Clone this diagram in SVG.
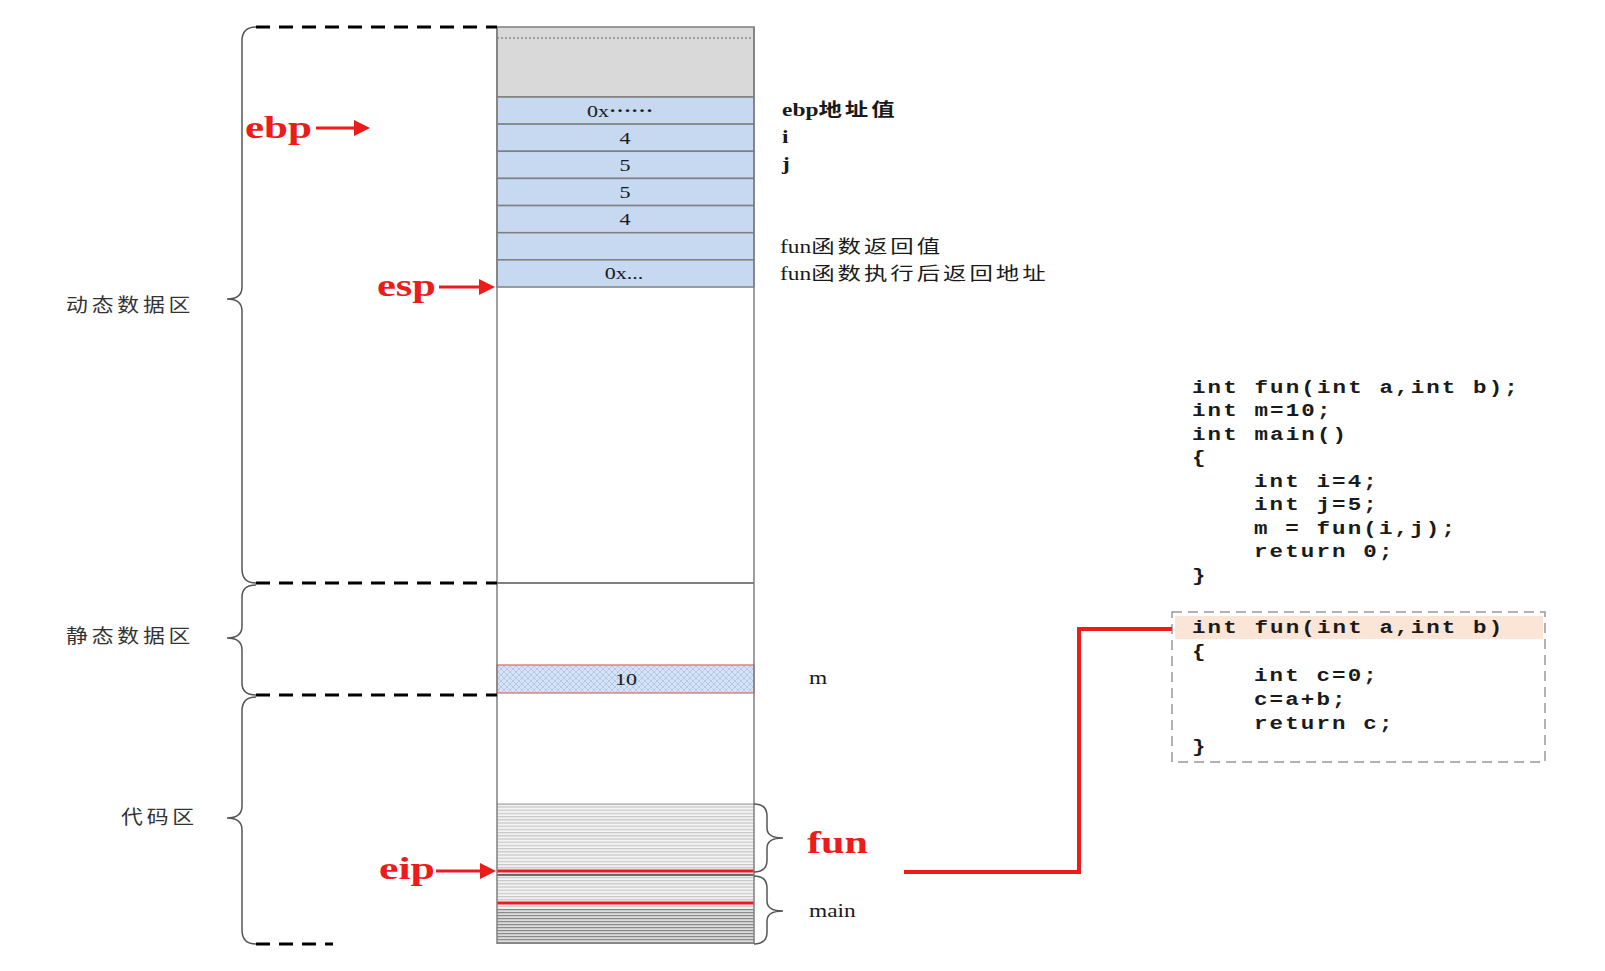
<svg xmlns="http://www.w3.org/2000/svg" width="1605" height="971" viewBox="0 0 1605 971">
<style>
.col{fill:none;stroke:#7f7f7f;stroke-width:1.5}
.cellb{fill:#c6d9f1;stroke:#7f7f7f;stroke-width:1.5}
.dash{fill:none;stroke:#000;stroke-width:3;stroke-dasharray:14 9}
.brace{fill:none;stroke:#555;stroke-width:1.5}
.cell{font-family:"Liberation Serif","Noto Sans CJK SC",serif;font-size:17px;fill:#1a1a1a;text-anchor:middle}
.lbl{font-family:"Liberation Serif","Noto Sans CJK SC",serif;font-size:18px;fill:#1a1a1a}
.cjk{font-family:"Noto Sans CJK SC",sans-serif;letter-spacing:2.3px}
.side{font-family:"Noto Sans CJK SC",sans-serif;font-size:19px;fill:#333;letter-spacing:3.3px}
.red{font-family:"Liberation Serif",serif;font-weight:bold;font-size:31px;fill:#ee1b1b}
.arr{stroke:#ee1b1b;stroke-width:3;fill:none}
.head{fill:#ee1b1b}
.code{font-family:"Liberation Mono","Courier New",monospace;font-weight:bold;font-size:18px;fill:#1a1a1a;letter-spacing:1.7px}
</style>
<defs>
<pattern id="stripeL" width="8" height="3.2" patternUnits="userSpaceOnUse"><rect width="8" height="3.2" fill="#f3f3f3"/><rect width="8" height="1.2" fill="#c6c6c6"/></pattern>
<pattern id="stripeD" width="8" height="3" patternUnits="userSpaceOnUse"><rect width="8" height="3" fill="#dcdcdc"/><rect width="8" height="1.2" fill="#8a8a8a"/></pattern>
<pattern id="xhatch" width="6" height="6" patternUnits="userSpaceOnUse"><rect width="6" height="6" fill="#d4e3f5"/><path d="M0 0L6 6M6 0L0 6" stroke="#a9c3e5" stroke-width="0.8"/></pattern>
</defs>
<rect width="1605" height="971" fill="#fff"/>

<g id="memory-column">
<rect x="497" y="27" width="257" height="70" fill="#d9d9d9" stroke="#7f7f7f" stroke-width="1.5"/>
<line x1="497" y1="38" x2="754" y2="38" stroke="#666" stroke-width="1" stroke-dasharray="2 2"/>
<rect class="cellb" x="497" y="97" width="257" height="27.14"/>
<rect class="cellb" x="497" y="124.14" width="257" height="27.14"/>
<rect class="cellb" x="497" y="151.28" width="257" height="27.14"/>
<rect class="cellb" x="497" y="178.42" width="257" height="27.14"/>
<rect class="cellb" x="497" y="205.56" width="257" height="27.14"/>
<rect class="cellb" x="497" y="232.7" width="257" height="27.14"/>
<rect class="cellb" x="497" y="259.84" width="257" height="27.16"/>
<text class="cell" transform="translate(620,117) scale(1.3,1)">0x<tspan dy="-5" font-weight="bold">……</tspan></text>
<text class="cell" transform="translate(625,144) scale(1.3,1)">4</text>
<text class="cell" transform="translate(625,171) scale(1.3,1)">5</text>
<text class="cell" transform="translate(625,198) scale(1.3,1)">5</text>
<text class="cell" transform="translate(625,225) scale(1.3,1)">4</text>
<text class="cell" transform="translate(624,279) scale(1.3,1)">0x...</text>
<line x1="497" y1="583" x2="754" y2="583" stroke="#555" stroke-width="1.5"/>
<rect x="497" y="665" width="257" height="28" fill="url(#xhatch)" stroke="#e06666" stroke-width="1.2"/>
<text class="cell" transform="translate(626,685) scale(1.3,1)">10</text>
<rect x="497" y="804" width="257" height="140" fill="url(#stripeL)"/>
<rect x="497" y="909" width="257" height="35" fill="url(#stripeD)"/>
<line x1="497" y1="804" x2="754" y2="804" stroke="#999" stroke-width="1.2"/>
<line x1="497" y1="875" x2="754" y2="875" stroke="#444" stroke-width="1.5"/>
<line x1="497" y1="871" x2="754" y2="871" stroke="#ee1b1b" stroke-width="3"/>
<line x1="497" y1="903" x2="754" y2="903" stroke="#ee1b1b" stroke-width="3"/>
<line x1="497" y1="943" x2="754" y2="943" stroke="#888" stroke-width="2"/>
<line class="col" x1="497" y1="27" x2="497" y2="944"/>
<line class="col" x1="754" y1="27" x2="754" y2="944"/>
</g>

<g id="region-dividers">
<line class="dash" x1="256" y1="27" x2="497" y2="27"/>
<line class="dash" x1="256" y1="583" x2="497" y2="583"/>
<line class="dash" x1="256" y1="695" x2="497" y2="695"/>
<line class="dash" x1="256" y1="944" x2="333" y2="944"/>
</g>

<g id="region-dynamic">
<path class="brace" d="M256 27Q242 27 242 41L242 287Q242 299 227 299Q242 299 242 311L242 569Q242 583 256 583"/>
<text class="side" transform="translate(66,312) scale(1.15,1)">动态数据区</text>
</g>
<g id="region-static">
<path class="brace" d="M256 585Q242 585 242 597L242 626Q242 638 227 638Q242 638 242 650L242 683Q242 695 256 695"/>
<text class="side" transform="translate(66,643) scale(1.15,1)">静态数据区</text>
</g>
<g id="region-code">
<path class="brace" d="M256 697Q242 697 242 711L242 806Q242 818 227 818Q242 818 242 830L242 930Q242 944 256 944"/>
<text class="side" transform="translate(121,824) scale(1.15,1)">代码区</text>
</g>

<g id="labels-right">
<text class="lbl" font-weight="bold" transform="translate(782,116) scale(1.3,1)">ebp<tspan class="cjk">地址值</tspan></text>
<text class="lbl" font-weight="bold" transform="translate(782,143) scale(1.3,1)">i</text>
<text class="lbl" font-weight="bold" transform="translate(782,170) scale(1.3,1)">j</text>
<text class="lbl" transform="translate(780,253) scale(1.3,1)">fun<tspan class="cjk">函数返回值</tspan></text>
<text class="lbl" transform="translate(780,280) scale(1.3,1)">fun<tspan class="cjk">函数执行后返回地址</tspan></text>
<text class="lbl" transform="translate(809,684) scale(1.3,1)">m</text>
<text class="lbl" transform="translate(809,917) scale(1.3,1)">main</text>
</g>

<g id="code-braces">
<path class="brace" d="M754 804Q767 804 767 816L767 828Q767 838 783 838Q767 838 767 848L767 860Q767 872 754 872"/>
<path class="brace" d="M754 876Q767 876 767 888L767 901Q767 911 783 911Q767 911 767 921L767 932Q767 944 754 944"/>
<text class="red" x="807" y="853" textLength="61" lengthAdjust="spacingAndGlyphs">fun</text>
</g>

<g id="pointer-ebp">
<text class="red" x="245" y="138" textLength="67" lengthAdjust="spacingAndGlyphs">ebp</text>
<line class="arr" x1="316" y1="128" x2="356" y2="128"/>
<polygon class="head" points="354,120 370,128 354,136"/>
</g>
<g id="pointer-esp">
<text class="red" x="377" y="296" textLength="59" lengthAdjust="spacingAndGlyphs">esp</text>
<line class="arr" x1="439" y1="287" x2="481" y2="287"/>
<polygon class="head" points="479,279 495,287 479,295"/>
</g>
<g id="pointer-eip">
<text class="red" x="379" y="879" textLength="56" lengthAdjust="spacingAndGlyphs">eip</text>
<line class="arr" x1="436" y1="871" x2="482" y2="871"/>
<polygon class="head" points="480,863 496,871 480,879"/>
</g>

<g id="code-main">
<g transform="translate(1192,0) scale(1.25,1)">
<text class="code" x="0" y="393">int fun(int a,int b);</text>
<text class="code" x="0" y="416.5">int m=10;</text>
<text class="code" x="0" y="440">int main()</text>
<text class="code" x="0" y="463.5">{</text>
<text class="code" x="49.6" y="487">int i=4;</text>
<text class="code" x="49.6" y="510.5">int j=5;</text>
<text class="code" x="49.6" y="534">m = fun(i,j);</text>
<text class="code" x="49.6" y="557.5">return 0;</text>
<text class="code" x="0" y="581">}</text>
</g>
</g>

<g id="code-fun">
<rect x="1172" y="612" width="373" height="150" fill="none" stroke="#999" stroke-width="1.5" stroke-dasharray="10 6"/>
<rect x="1175" y="616" width="368" height="23" fill="#fbe5d6"/>
<g transform="translate(1192,0) scale(1.25,1)">
<text class="code" x="0" y="633">int fun(int a,int b)</text>
<text class="code" x="0" y="657">{</text>
<text class="code" x="49.6" y="681">int c=0;</text>
<text class="code" x="49.6" y="705">c=a+b;</text>
<text class="code" x="49.6" y="729">return c;</text>
<text class="code" x="0" y="752">}</text>
</g>
</g>

<g id="connectors">
<polyline points="904,872 1079,872 1079,629 1172,629" fill="none" stroke="#ee1b1b" stroke-width="4"/>
</g>
</svg>
